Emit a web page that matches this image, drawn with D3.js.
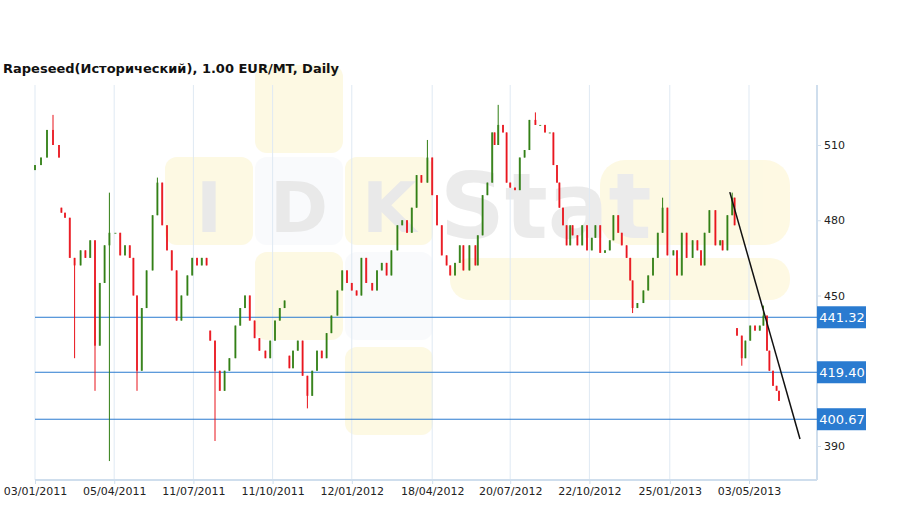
<!DOCTYPE html>
<html lang="en">
<head>
<meta charset="UTF-8">
<title>Rapeseed</title>
<script src="https://d3js.org/d3.v7.min.js"></script>
<style>
  body { margin: 0; background: #fff; }
  text { font-family: Verdana, "DejaVu Sans", sans-serif; }
</style>
</head>
<body>
<script>
// trading-day index of each bar and its close
const days = [0,5,10,15,20,22,25,29,33,38,42,46,50,54,58,62,67,71,75,79,82,85,89,93,98,102,106,110,114,118,122,127,131,135,139,143,
  146,150,154,158,162,167,171,175,179,183,187,192,196,200,204,208,212,215,219,223,227,231,235,239,243,247,252,256,260,264,268,272,276,
  281,285,289,293,297,302,306,310,314,318,322,327,331,335,339,343,346,350,354,357,362,367,369,373,377,381,383,386,390,393,396,400,404,
  408,412,417,421,425,429,432,435,437,440,443,446,448,452,456,460,464,467,471,475,479,482,486,489,493,496,498,502,507,511,515,519,523,
  527,532,535,539,543,548,552,555,558,562,567,571,573,577,581,583,585,589,592,596,600,604,607,610,612,615,618,620];
const closes = [502,505,516,510,505,483,481,465,462,468,465,472,430,455,470,475,475,466,470,465,450,420,445,460,482,495,478,468,460,440,450,458,465,462,465,462,
  432,420,412,420,425,438,445,450,440,433,428,425,432,440,445,448,421,428,432,418,410,420,428,425,435,442,452,460,455,452,450,465,455,
  452,460,463,458,468,478,480,475,485,498,495,505,490,478,466,462,458,463,470,460,470,462,474,490,495,515,510,518,515,495,493,492,505,
  508,520,518,518,515,515,502,495,485,478,470,478,474,470,478,468,473,478,467,468,472,482,475,470,465,456,445,447,452,458,465,475,485,
  466,468,458,475,465,472,468,462,475,484,470,472,468,482,489,478,434,425,432,438,436,438,442,428,420,414,412,408];
const firstOpen = 500;
// opens after visible gaps in the series
const gapOpens = [{d:22, o:485},{d:146, o:436},{d:212, o:426},{d:585, o:437}];
// notable wick extremes
const extremes = [
  {d:15, hi:522},{d:33, lo:425},{d:50, lo:412},{d:62, hi:491, lo:384},{d:85, lo:412},{d:102, hi:497},
  {d:150, lo:392},{d:227, lo:405},{d:327, hi:512},{d:386, hi:526},{d:417, hi:523},{d:498, lo:443},
  {d:523, hi:489},{d:581, hi:491},{d:589, lo:422},{d:607, hi:446}
];
const levels = [441.32, 419.40, 400.67];
const yTicks = [390, 450, 480, 510];
const xTickDays = [0,66,132,198,264,331,396,462,529,595];
const xTickLabels = ["03/01/2011","05/04/2011","11/07/2011","11/10/2011","12/01/2012","18/04/2012","20/07/2012","22/10/2012","25/01/2013","03/05/2013"];
const trend = [{d:579, v:491.2},{d:637.5, v:392.8}];

const width = 909, height = 509;
const plot = {left: 35, right: 817, top: 85, bottom: 480};

const bars = days.map((d, i) => {
  const gap = gapOpens.find(x => x.d === d);
  const open = i === 0 ? firstOpen : gap ? gap.o : closes[i - 1];
  const c = closes[i];
  const e = extremes.find(x => x.d === d) || {};
  return {d, open, close: c,
    high: e.hi !== undefined ? e.hi : Math.max(open, c),
    low: e.lo !== undefined ? e.lo : Math.min(open, c)};
});

const x = d3.scaleLinear().domain([0, 650]).range([plot.left, plot.left + 650 * 1.2]);
const y = d3.scaleLinear().domain([510, 390]).range([145, 446]);

const svg = d3.select('body').append('svg').attr('width', width).attr('height', height);

// watermark
const wm = svg.append('g').attr('opacity', 0.5);
const boxes = [[255,65],[165,157],[255,157],[345,157],[255,252],[345,252],[345,347]];
wm.selectAll('rect.box').data(boxes).join('rect').attr('class','box')
  .attr('x', d => d[0]).attr('y', d => d[1]).attr('width', 88).attr('height', 88).attr('rx', 12)
  .attr('fill', (d, i) => i === 2 || i === 5 ? '#f4f7fb' : '#fdf4c8');
wm.append('rect').attr('x', 600).attr('y', 160).attr('width', 190).attr('height', 85).attr('rx', 25).attr('fill', '#fdf4c8');
wm.append('rect').attr('x', 450).attr('y', 258).attr('width', 340).attr('height', 42).attr('rx', 20).attr('fill', '#fdf4c8');
wm.selectAll('text.l').data([['I',209],['D',299],['K',389]]).join('text').attr('class','l')
  .attr('x', d => d[1]).attr('y', 232).attr('text-anchor','middle')
  .attr('font-size', 70).attr('font-weight','bold').attr('fill','#d4d4d4').text(d => d[0]);
wm.append('text').attr('x', 440).attr('y', 238).attr('font-size', 90).attr('font-weight','bold')
  .attr('fill','#d9d9d9').text('Stat');

// grid
svg.append('g').selectAll('line').data(xTickDays).join('line')
  .attr('x1', d => x(d)).attr('x2', d => x(d)).attr('y1', plot.top).attr('y2', plot.bottom)
  .attr('stroke', '#dfe9f3');
svg.append('line').attr('x1', plot.left).attr('x2', plot.right).attr('y1', plot.bottom).attr('y2', plot.bottom).attr('stroke', '#cfdeed').attr('stroke-width', 2);
svg.append('line').attr('x1', plot.right).attr('x2', plot.right).attr('y1', plot.top).attr('y2', plot.bottom).attr('stroke', '#cfdeed').attr('stroke-width', 2);

// axes
const xAxis = d3.axisBottom(x).tickValues(xTickDays).tickFormat((d, i) => xTickLabels[i]).tickSize(4);
const gx = svg.append('g').attr('transform', `translate(0,${plot.bottom})`).call(xAxis);
gx.select('.domain').remove();
gx.selectAll('line').attr('stroke', '#cfdeed');
gx.selectAll('text').attr('font-size', 11).attr('fill', '#222');

const yAxis = d3.axisRight(y).tickValues(yTicks).tickSize(4);
const gy = svg.append('g').attr('transform', `translate(${plot.right},0)`).call(yAxis);
gy.select('.domain').remove();
gy.selectAll('line').attr('stroke', '#cfdeed');
gy.selectAll('text').attr('font-size', 11).attr('fill', '#222');

// level lines
svg.append('g').selectAll('line').data(levels).join('line')
  .attr('x1', plot.left).attr('x2', plot.right).attr('y1', d => y(d)).attr('y2', d => y(d))
  .attr('stroke', '#2a7bd0');
const lab = svg.append('g').selectAll('g').data(levels).join('g')
  .attr('transform', d => `translate(${plot.right},${y(d)})`);
lab.append('rect').attr('x', 0).attr('y', -11).attr('width', 49).attr('height', 22).attr('fill', '#2a7bd0');
lab.append('text').attr('x', 25).attr('y', 5).attr('text-anchor', 'middle').attr('font-size', 13)
  .attr('fill', '#fff').text(d => d.toFixed(2));

// bars
const g = svg.append('g');
const col = d => d.close >= d.open ? '#2e7d12' : '#e8121a';
g.selectAll('line.w').data(bars).join('line').attr('class','w')
  .attr('x1', d => x(d.d)).attr('x2', d => x(d.d)).attr('y1', d => y(d.high)).attr('y2', d => y(d.low))
  .attr('stroke', col).attr('stroke-width', 1);
g.selectAll('rect.b').data(bars).join('rect').attr('class','b')
  .attr('x', d => x(d.d) - 1).attr('width', 2)
  .attr('y', d => y(Math.max(d.open, d.close)))
  .attr('height', d => Math.max(1, Math.abs(y(d.open) - y(d.close))))
  .attr('fill', col).attr('opacity', 0.8);

// trend line
svg.append('line').attr('x1', x(trend[0].d)).attr('y1', y(trend[0].v))
  .attr('x2', x(trend[1].d)).attr('y2', y(trend[1].v)).attr('stroke', '#111').attr('stroke-width', 1.5);

// title
svg.append('text').attr('x', 3).attr('y', 73).attr('font-size', 13).attr('font-weight', 'bold')
  .attr('fill', '#111').text('Rapeseed(Исторический), 1.00 EUR/MT, Daily');
</script>
</body>
</html>
